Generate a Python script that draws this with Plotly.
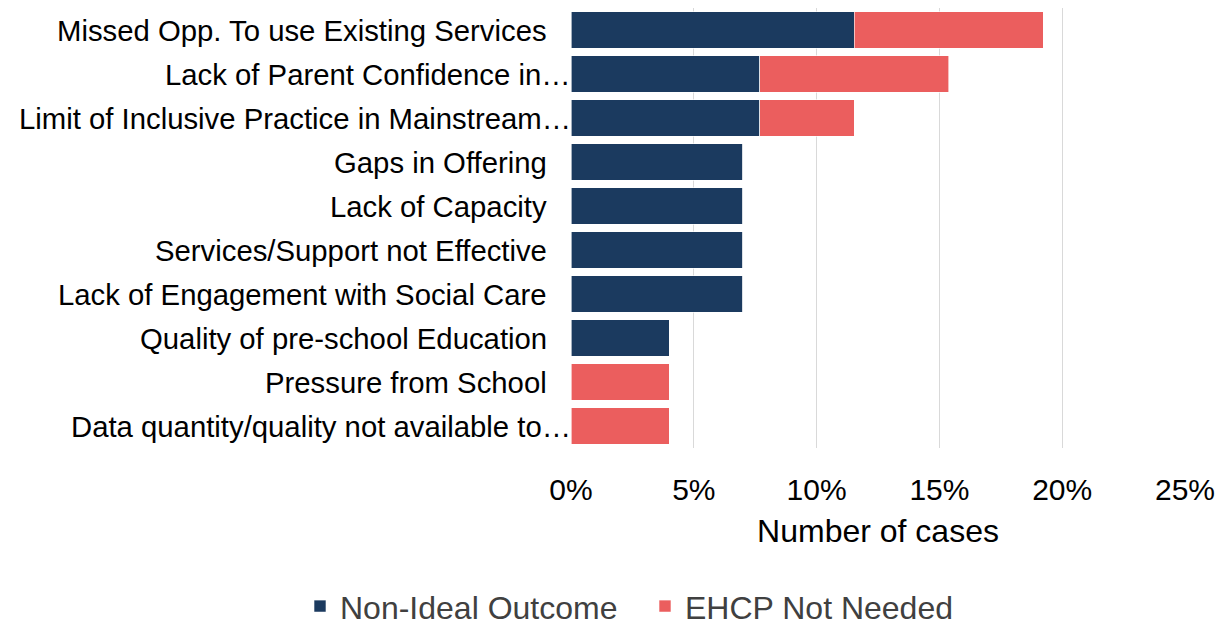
import plotly.graph_objects as go

categories = [
    "Missed Opp. To use Existing Services",
    "Lack of Parent Confidence in…",
    "Limit of Inclusive Practice in Mainstream…",
    "Gaps in Offering",
    "Lack of Capacity",
    "Services/Support not Effective",
    "Lack of Engagement with Social Care",
    "Quality of pre-school Education",
    "Pressure from School",
    "Data quantity/quality not available to…",
]
truncated = [False, True, True, False, False, False, False, False, False, True]
series_names = ["Non-Ideal Outcome", "EHCP Not Needed"]
non_ideal = [0.1154, 0.0769, 0.0769, 0.07, 0.07, 0.07, 0.07, 0.04, 0.0, 0.0]
ehcp_not_needed = [0.0769, 0.0769, 0.0385, 0.0, 0.0, 0.0, 0.0, 0.0, 0.04, 0.04]
x_ticks = [0, 0.05, 0.10, 0.15, 0.20, 0.25]

NAVY = "#1B3A5F"
RED = "#EB5E5E"
FONT = "Liberation Sans, Arial, sans-serif"

fig = go.Figure()
fig.add_trace(go.Bar(
    y=categories, x=non_ideal, orientation="h", name=series_names[0],
    marker=dict(color=NAVY, line=dict(color="rgba(255,255,255,0.6)", width=1)),
    legend="legend",
))
fig.add_trace(go.Bar(
    y=categories, x=ehcp_not_needed, orientation="h", name=series_names[1],
    marker=dict(color=RED, line=dict(color="rgba(255,255,255,0.6)", width=1)),
    legend="legend2",
))

annotations = []
for cat, tr in zip(categories, truncated):
    annotations.append(dict(
        x=0, xref="paper", y=cat, yref="y", text=cat, showarrow=False,
        xanchor="right", yanchor="middle", xshift=(2 if tr else -22),
        font=dict(family=FONT, size=29.3, color="#000000"),
    ))

legend_common = dict(
    orientation="h", xref="container", xanchor="left",
    y=0.033, yref="container", yanchor="middle",
    font=dict(family=FONT, size=32, color="#404040"),
    bgcolor="rgba(0,0,0,0)",
)

fig.update_layout(
    barmode="stack",
    bargap=0.175,
    width=1229, height=627,
    margin=dict(l=571, r=44, t=8, b=179),
    paper_bgcolor="white", plot_bgcolor="white",
    font=dict(family=FONT, size=29, color="#000000"),
    xaxis=dict(
        range=[0, 0.25], tickvals=x_ticks, tickformat=".0%",
        showgrid=True, gridcolor="#D9D9D9", gridwidth=1,
        zeroline=False, showline=False,
        ticks="outside", ticklen=15, tickcolor="rgba(0,0,0,0)",
        tickfont=dict(family=FONT, size=30, color="#000000"),
        title=dict(text="Number of cases", font=dict(family=FONT, size=32, color="#000000"), standoff=14),
        automargin=False,
    ),
    yaxis=dict(
        autorange="reversed", showticklabels=False, showgrid=False,
        zeroline=False, showline=False, ticks="", automargin=False,
    ),
    legend=dict(x=300 / 1229, **legend_common),
    legend2=dict(x=645 / 1229, **legend_common),
    annotations=annotations,
    showlegend=True,
)

fig.write_html(
    "out.html",
    config={"displayModeBar": False},
    post_script="document.body.style.margin='0';",
)
